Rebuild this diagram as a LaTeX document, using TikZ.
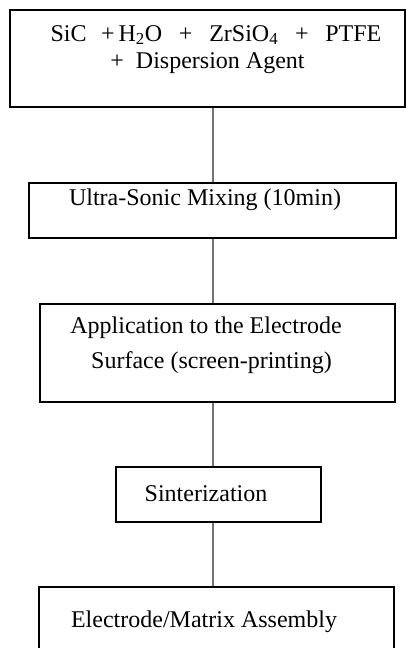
\documentclass[tikz,border=0pt]{standalone}
\usepackage{fontspec}
\setmainfont{Liberation Serif}
\begin{document}
\begin{tikzpicture}[x=1pt,y=-1pt,
  stepbox/.style={draw=black,line width=1.4pt,minimum width=#1,inner sep=0pt},
  lbl/.style={anchor=base,inner sep=0pt,font=\fontsize{24}{28}\selectfont},
  conn/.style={draw=black!55,line width=1.1pt}]
\useasboundingbox (0,0) rectangle (406,648);
\clip (0,0) rectangle (406,648);
\coordinate (axis) at (213,0);
% boxes
\node[stepbox=395pt,minimum height=97pt] (b1) at (207.5,58.5) {};
\node[stepbox=367pt,minimum height=55pt] (b2) at (212.5,210.5) {};
\node[stepbox=355pt,minimum height=98pt] (b3) at (217.5,353) {};
\node[stepbox=205pt,minimum height=55pt] (b4) at (218.5,494.5) {};
\node[stepbox=355pt,minimum height=90pt] (b5) at (216.5,632) {};
% texts
\node[lbl] (t1a) at (216,41) {SiC\hspace{0.6em}+\,H\textsubscript{2}O\hspace{0.7em}+\hspace{0.7em}ZrSiO\textsubscript{4}\hspace{0.7em}+\hspace{0.7em}PTFE};
\node[lbl] (t1b) at (207.5,68) {+~ Dispersion Agent};
\node[lbl] (t2) at (205,205) {Ultra-Sonic Mixing (10min)};
\node[lbl] (t3a) at (206,333) {Application to the Electrode};
\node[lbl] (t3b) at (211.5,368) {Surface (screen-printing)};
\node[lbl] (t4) at (206,501) {Sinterization};
\node[lbl] (t5) at (204,627) {Electrode/Matrix Assembly};
% connectors
\draw[conn] (b1.south -| axis) -- (b2.north -| axis);
\draw[conn] (b2.south -| axis) -- (b3.north -| axis);
\draw[conn] (b3.south -| axis) -- (b4.north -| axis);
\draw[conn] (b4.south -| axis) -- (b5.north -| axis);
\end{tikzpicture}
\end{document}
